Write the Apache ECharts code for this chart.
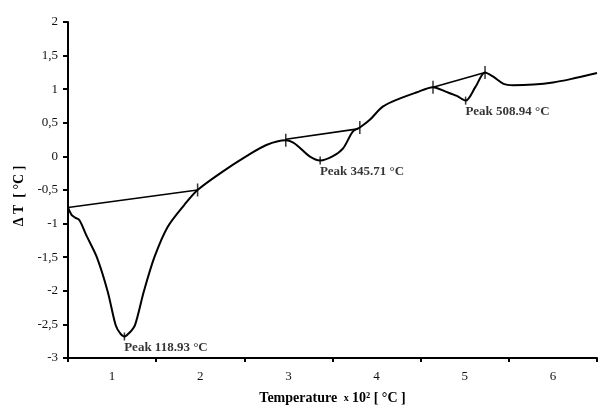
<!DOCTYPE html>
<html>
<head>
<meta charset="utf-8">
<script src="https://cdn.jsdelivr.net/npm/echarts@6/dist/echarts.min.js"></script>
<style>
html,body{margin:0;padding:0;background:#fff;}
#chart{width:601px;height:405px;}
</style>
</head>
<body>
<div id="chart"></div>
<script>
// Temperature (x 10^2 °C) and ΔT (°C)
var curveX = [0.50,0.54,0.58,0.63,0.71,0.83,0.95,1.04,1.09,1.14,1.20,1.26,1.36,1.48,1.63,1.82,1.97,2.25,2.52,2.75,2.97,3.05,3.12,3.24,3.36,3.50,3.62,3.73,3.81,3.92,4.07,4.26,4.45,4.64,4.79,4.91,5.01,5.12,5.23,5.32,5.44,5.55,5.78,6.00,6.20,6.50];
var curveY = [-0.76,-0.87,-0.91,-0.95,-1.18,-1.51,-2.01,-2.51,-2.63,-2.68,-2.62,-2.51,-2.01,-1.50,-1.05,-0.72,-0.50,-0.23,0.00,0.17,0.24,0.21,0.14,0.00,-0.06,0.00,0.12,0.37,0.43,0.54,0.74,0.86,0.95,1.03,0.96,0.90,0.83,1.03,1.25,1.19,1.08,1.06,1.07,1.10,1.15,1.24];

// baselines (start / end points)
var base1 = [[0.50,-0.76],[1.97,-0.50]];
var base2 = [[2.97,0.255],[3.79,0.41]];
var base3 = [[4.64,1.03],[5.23,1.25]];

// tangent (onset/end) markers
var tangentPts = [[1.97,-0.50],[2.97,0.24],[3.81,0.43],[4.64,1.03],[5.23,1.25]];
// peak markers and labels
var peakPts = [[1.14,-2.68],[3.36,-0.06],[5.01,0.83]];
var peakLabels = ['Peak 118.93 °C','Peak 345.71 °C','Peak 508.94 °C'];

var xTicks = [0.5,1.5,2.5,3.5,4.5,5.5,6.5];
var xLabels = [1,2,3,4,5,6];

var serif = "'Liberation Serif','Times New Roman',serif";

var curve = curveX.map(function(x,i){return [x,curveY[i]];});

var chart = echarts.init(document.getElementById('chart'));
var lineBase = {type:'line', symbol:'none', silent:true, lineStyle:{color:'#000', width:1.6}, z:3};

chart.setOption({
  animation:false,
  backgroundColor:'#fff',
  grid:{left:68, right:4, top:22, bottom:47, containLabel:false, outerBoundsMode:'none'},
  xAxis:{
    type:'value', min:0.5, max:6.5,
    name:'{b|Temperature}  {s|x} {b|10²} {b|[ °C ]}',
    nameLocation:'middle', nameGap:33,
    nameTextStyle:{
      rich:{
        b:{fontFamily:serif, fontSize:14, fontWeight:'bold', color:'#000'},
        s:{fontFamily:serif, fontSize:10, fontWeight:'bold', color:'#000'}
      }
    },
    axisLine:{onZero:false, lineStyle:{color:'#000', width:2}},
    axisTick:{show:true, inside:false, length:4, lineStyle:{color:'#000', width:2}, customValues:xTicks},
    axisLabel:{fontFamily:serif, fontSize:13, color:'#111', margin:12, customValues:xLabels},
    splitLine:{show:false}
  },
  yAxis:{
    type:'value', min:-3, max:2, interval:0.5,
    name:'Δ T  [ °C ]',
    nameLocation:'middle', nameGap:35, nameRotate:90,
    nameTextStyle:{fontFamily:serif, fontSize:14, fontWeight:'bold', color:'#000', padding:[0,0,0,-12]},
    axisLine:{show:true, onZero:false, lineStyle:{color:'#000', width:2}},
    axisTick:{show:true, length:5, lineStyle:{color:'#000', width:2}},
    axisLabel:{fontFamily:serif, fontSize:13, color:'#111', margin:10,
      formatter:function(v){return String(v).replace('.',',');}},
    splitLine:{show:false}
  },
  series:[
    {type:'line', data:curve, symbol:'none', smooth:0.3, silent:true,
      lineStyle:{color:'#000', width:2}, z:4},
    Object.assign({data:base1}, lineBase),
    Object.assign({data:base2}, lineBase),
    Object.assign({data:base3}, lineBase),
    {type:'scatter', data:tangentPts, symbol:'rect', symbolSize:[1.5,13], silent:true,
      itemStyle:{color:'#000'}, z:5},
    {type:'scatter', data:peakPts.map(function(p,i){return {value:p, name:peakLabels[i]};}),
      symbol:'rect', symbolSize:[1.5,8], silent:true, itemStyle:{color:'#000'}, z:5,
      label:{show:true, formatter:function(p){return p.name;}, position:[0.5,15], align:'left', verticalAlign:'middle',
        fontFamily:serif, fontSize:13, fontWeight:'bold', color:'#000'}}
  ]
});
</script>
</body>
</html>
